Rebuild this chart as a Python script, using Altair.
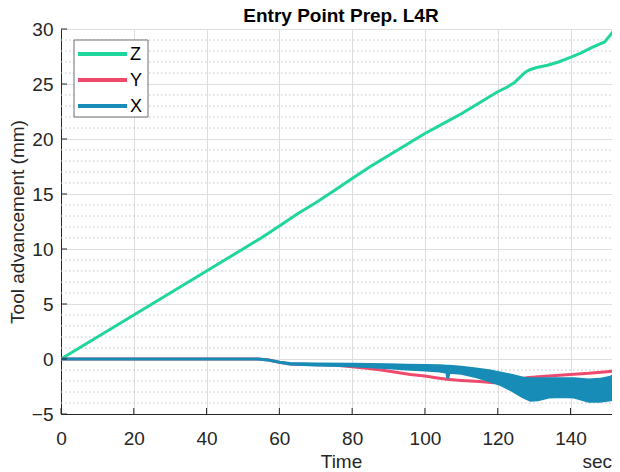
import altair as alt
import pandas as pd

title_text = "Entry Point Prep. L4R"
series = ["Z", "Y", "X"]
colors = ["#1fd69c", "#ee4a6e", "#178cb7"]

x_ticks = [0, 20, 40, 60, 80, 100, 120, 140]
y_ticks = [-5, 0, 5, 10, 15, 20, 25, 30]
y_minor = [-4, -3, -2, -1, 1, 2, 3, 4, 6, 7, 8, 9, 11, 12, 13, 14, 16, 17, 18, 19,
           21, 22, 23, 24, 26, 27, 28, 29]

# Z series
z_t = [0, 10, 20, 30, 40, 50, 55, 60, 65, 70, 75, 80, 85, 90, 95, 100, 105, 110, 115, 120,
       122.5, 124.5, 126.7, 127.7, 128.8, 130.7, 133.7, 136.7, 139.8, 142.8, 145.8, 147.8,
       149.3, 150.8, 151.8, 153.5]
z_v = [0, 2.0, 4.0, 6.0, 8.0, 10.0, 11.0, 12.1, 13.2, 14.2, 15.3, 16.4, 17.5, 18.5, 19.5, 20.5,
       21.4, 22.3, 23.3, 24.3, 24.7, 25.1, 25.8, 26.1, 26.3, 26.5, 26.7, 27.0, 27.4, 27.8,
       28.3, 28.6, 28.8, 29.4, 29.8, 30.0]

# Y series
y_t = [0, 20, 40, 54, 57, 60, 63, 68, 75, 80, 84, 88, 92, 96, 100, 103, 106, 110, 115, 119,
       122, 125, 128, 132, 136, 140, 145, 150, 152.0, 152.5, 152.9, 153.2, 153.5]
y_v = [0, 0, 0, 0, -0.1, -0.3, -0.45, -0.5, -0.55, -0.7, -0.85, -1.0, -1.2, -1.4, -1.55, -1.7,
       -1.85, -1.95, -2.05, -2.15, -2.05, -1.85, -1.7, -1.6, -1.5, -1.4, -1.3, -1.15, -1.1,
       -0.6, -1.6, -0.8, -1.2]

# X series (noisy band: upper / lower envelope)
x_t = [0, 54, 57, 60, 63, 70, 80, 90, 95, 100, 104, 106.0, 106.3, 106.6, 110, 114, 118, 121,
       124, 127, 129, 131, 134, 138, 141, 145, 148, 151, 153.5]
x_hi = [0, 0, -0.1, -0.3, -0.4, -0.45, -0.48, -0.52, -0.56, -0.6, -0.62, -0.65, -0.65, -0.65,
        -0.75, -0.9, -1.1, -1.3, -1.5, -1.75, -1.8, -1.8, -1.8, -1.8, -1.8, -1.9, -1.85, -1.65, -1.1]
x_lo = [0, 0, -0.1, -0.3, -0.45, -0.55, -0.62, -0.8, -0.9, -1.0, -1.1, -1.2, -1.75, -1.2,
        -1.3, -1.6, -2.0, -2.35, -2.85, -3.45, -3.75, -3.7, -3.45, -3.4, -3.45, -3.85, -3.85, -3.7, -3.5]

W, H = 551, 385
CX = 280  # horizontal centre of the original (uncropped) axes
FONT = "Liberation Sans"
AX = "#262626"
FS = 19

dz = pd.DataFrame({"t": z_t, "v": z_v, "s": "Z"})
dy = pd.DataFrame({"t": y_t, "v": y_v, "s": "Y"})
dx = pd.DataFrame({"t": x_t, "v": x_hi, "v2": x_lo, "s": "X"})
one = pd.DataFrame({"k": [0]})

cscale = alt.Scale(domain=series, range=colors)
xscale = alt.Scale(domain=[0, 151.4], nice=False, zero=False)
yscale = alt.Scale(domain=[-5, 30], nice=False, zero=False)

xenc = alt.X("t:Q", scale=xscale, title="Time",
             axis=alt.Axis(values=x_ticks, ticks=False, labelPadding=15, titlePadding=4,
                           titleX=CX,
                           grid=True, gridColor="#dedede", domainColor=AX,
                           labelColor=AX, titleColor=AX, labelFontSize=FS, titleFontSize=FS,
                           labelFont=FONT, titleFont=FONT, titleFontWeight="normal",
                           labelFlush=False))
yenc = alt.Y("v:Q", scale=yscale, title="Tool advancement (mm)",
             axis=alt.Axis(values=y_ticks, ticks=False, labelPadding=8, titlePadding=4,
                           grid=True, gridColor="#dedede", domainColor=AX,
                           labelColor=AX, titleColor=AX, labelFontSize=FS, titleFontSize=FS,
                           labelFont=FONT, titleFont=FONT, titleFontWeight="normal",
                           labelFlush=False))
cenc = alt.Color("s:N", scale=cscale, legend=None)

minor = alt.Chart(pd.DataFrame({"v": y_minor})).mark_rule(
    color="#c4c4c4", strokeDash=[1.5, 2.5], strokeWidth=1).encode(
    y=alt.Y("v:Q", scale=yscale), x=alt.value(0), x2=alt.value(W))

zline = alt.Chart(dz).mark_line(strokeWidth=3, clip=True).encode(x=xenc, y=yenc, color=cenc)
yline = alt.Chart(dy).mark_line(strokeWidth=3, clip=True).encode(x=xenc, y=yenc, color=cenc)
xband = alt.Chart(dx).mark_area(strokeWidth=3, clip=True, opacity=1).encode(
    x=xenc, y=yenc, y2="v2:Q", color=cenc, stroke=alt.Color("s:N", scale=cscale, legend=None))

xt = alt.Chart(pd.DataFrame({"t": x_ticks})).mark_rule(color=AX, strokeWidth=1).encode(
    x=alt.X("t:Q", scale=xscale), y=alt.value(H), y2=alt.value(H - 6))
yt = alt.Chart(pd.DataFrame({"v": y_ticks})).mark_rule(color=AX, strokeWidth=1).encode(
    y=alt.Y("v:Q", scale=yscale), x=alt.value(0), x2=alt.value(6))

# legend box drawn in MATLAB style
leg_layers = [alt.Chart(one).mark_rect(fill="white", stroke="#6e6e6e", strokeWidth=1).encode(
    x=alt.value(13), x2=alt.value(87), y=alt.value(11), y2=alt.value(88))]
for i, (s, c) in enumerate(zip(series, colors)):
    yy = 25 + 26 * i
    leg_layers.append(alt.Chart(one).mark_rule(color=c, strokeWidth=4).encode(
        x=alt.value(17), x2=alt.value(66), y=alt.value(yy)))
    leg_layers.append(alt.Chart(one).mark_text(
        text=s, font=FONT, fontSize=18, color="#000000", align="left", baseline="middle").encode(
        x=alt.value(69), y=alt.value(yy + 1)))

sec = alt.Chart(one).mark_text(text="sec", font=FONT, fontSize=FS, color=AX,
                               align="right", baseline="alphabetic").encode(
    x=alt.value(W), y=alt.value(H + 54))

title = alt.Chart(one).mark_text(text=title_text, font=FONT, fontSize=FS, fontWeight="bold",
                                 color="#000000", align="center", baseline="alphabetic").encode(
    x=alt.value(CX), y=alt.value(-7))

chart = alt.layer(minor, zline, yline, xband, xt, yt, *leg_layers, sec, title).properties(
    width=W, height=H,
    autosize=alt.AutoSizeParams(type="none"),
    padding={"left": 53, "top": 21, "right": 0, "bottom": 58},
).configure_view(stroke=None).configure(background="white")

chart.save("out.html", embed_options={"renderer": "svg", "actions": False})
